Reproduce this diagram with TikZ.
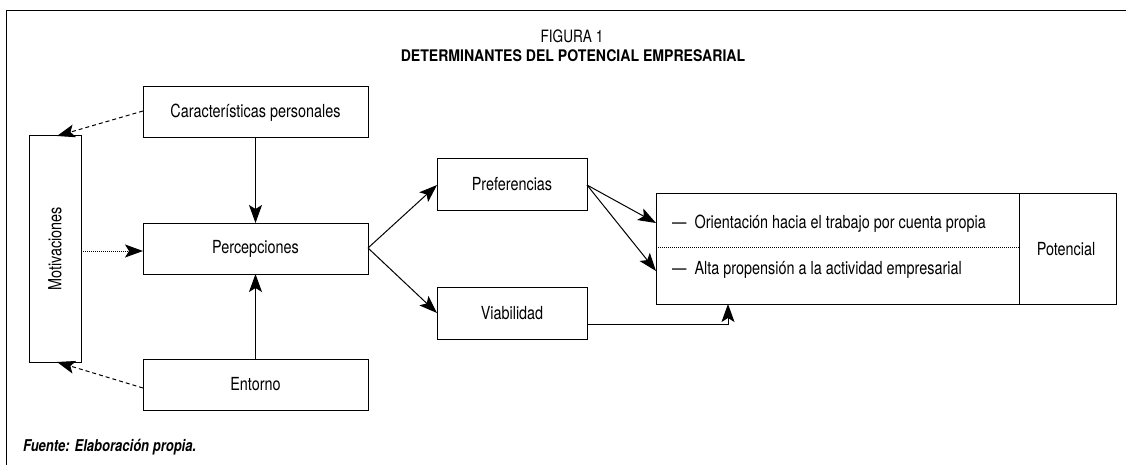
\documentclass[tikz,border=0pt]{standalone}
\usepackage{fontspec}
\usepackage{graphicx}
\setmainfont{TeX Gyre Heros}[FakeStretch=0.8]
\newfontfamily\titlefont{TeX Gyre Heros}[FakeStretch=0.88]
\usetikzlibrary{arrows.meta}
\begin{document}
\begin{tikzpicture}[x=1pt,y=-1pt,
  box/.style={draw,line width=1pt,inner sep=0pt},
  lbl/.style={font=\fontsize{18}{21}\selectfont},
  arr/.style={line width=1pt,-{Stealth[length=18pt,width=13pt,inset=4pt]}},
  darr/.style={arr,dash pattern=on 4pt off 3pt},
  dotarr/.style={arr,dash pattern=on 1pt off 1pt}]
\useasboundingbox (0,0) rectangle (1126,465);
% frame
\draw[line width=1pt] (1126,11) -- (6,11) -- (6,465);
% title
\node[font={\fontsize{17}{20}\selectfont}] (fig) at (572,36) {FIGURA 1};
\node[font={\titlefont\bfseries\fontsize{16}{19}\selectfont}] (title) at (573,56) {DETERMINANTES DEL POTENCIAL EMPRESARIAL};
% boxes
\draw[box] (143,87) rectangle (368,138);
\node[lbl] (car) at (255.5,112.5) {Características personales};
\coordinate (carL) at (143,111);
\coordinate (carB) at (255.5,138);
\draw[box] (29,136) rectangle (81,362);
\node[lbl,rotate=90] (mot) at (55,249) {Motivaciones};
\coordinate (motT) at (57,136);
\coordinate (motB) at (57,362);
\coordinate (motR) at (81,251);
\draw[box] (143,223) rectangle (368,274);
\node[lbl] (per) at (255.5,248.5) {Percepciones};
\coordinate (perT) at (255.5,223);
\coordinate (perBt) at (255.5,274);
\coordinate (perL) at (143,251);
\coordinate (perR) at (368,248);
\draw[box] (143,359) rectangle (368,410);
\node[lbl] (ent) at (255.5,384.5) {Entorno};
\coordinate (entT) at (255.5,359);
\coordinate (entL) at (143,388);
\draw[box] (437,159) rectangle (587,210);
\node[lbl] (pref) at (512,184.5) {Preferencias};
\coordinate (prefL) at (437,185);
\coordinate (prefR) at (587,185);
\draw[box] (437,287) rectangle (587,339);
\node[lbl] (via) at (512,313) {Viabilidad};
\coordinate (viaL) at (437,313);
\coordinate (viaR) at (587,324);
% big box
\draw[box] (656,193) rectangle (1116,304);
\draw[line width=1pt] (1019,193) -- (1019,304);
\draw[line width=0.6pt,dash pattern=on 1pt off 1pt] (656,247) -- (1019,247);
\node[lbl,anchor=west,inner sep=0pt] (ori) at (672,224) {—\ \ Orientación hacia el trabajo por cuenta propia};
\node[lbl,anchor=west,inner sep=0pt] (alta) at (672,270) {—\ \ Alta propensión a la actividad empresarial};
\node[lbl] (pot) at (1066,249) {Potencial};
\coordinate (bigA) at (656,223);
\coordinate (bigB) at (656,271);
\coordinate (bigC) at (728,304);
% arrows
\draw[darr] (carL) -- (motT);
\draw[darr] (entL) -- (motB);
\draw[dotarr] (motR) -- (perL);
\draw[arr] (carB) -- (perT);
\draw[arr] (entT) -- (perBt);
\draw[arr] (perR) -- (prefL);
\draw[arr] (perR) -- (viaL);
\draw[arr] (prefR) -- (bigA);
\draw[arr] (prefR) -- (bigB);
\draw[arr] (viaR) -| (bigC);
% source
\node[anchor=west,inner sep=0pt] (src) at (23,447) {\resizebox{173pt}{!}{\fontsize{16}{19}\selectfont\bfseries\itshape Fuente: Elaboración propia.}};
\end{tikzpicture}
\end{document}
